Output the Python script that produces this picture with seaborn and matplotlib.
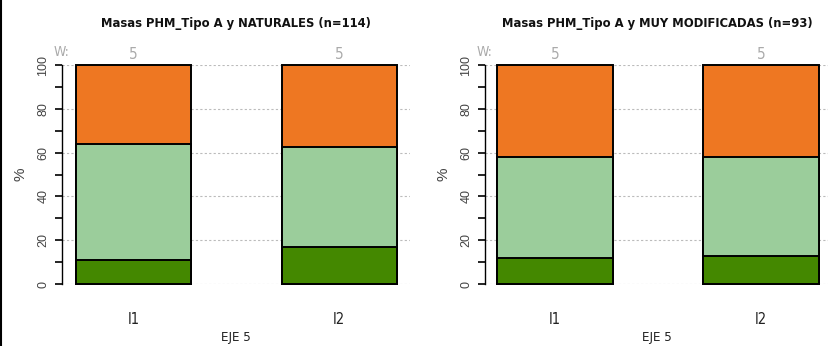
import matplotlib
matplotlib.use("Agg")
import matplotlib.pyplot as plt
from matplotlib import font_manager
from matplotlib.lines import Line2D
import numpy as np
import pandas as pd
import seaborn as sns

# Data: share (%) of water bodies in each state class, by indicator
categories = ["I1", "I2"]
bajo_nat = [11, 17]
medio_nat = [53, 45.5]
alto_nat = [36, 37.5]
bajo_mod = [12, 13]
medio_mod = [46, 45]
alto_mod = [42, 42]
counts_nat = [5, 5]
counts_mod = [5, 5]
titles = ["Masas PHM_Tipo A y NATURALES (n=114)",
          "Masas PHM_Tipo A y MUY MODIFICADAS (n=93)"]

col_alto = "#EE7722"
col_medio = "#9BCD9B"
col_bajo = "#448800"

sns.set_theme(style="white")
plain = "Liberation Sans"
plt.rcParams["font.family"] = [plain, "DejaVu Sans"]

# condensed face for titles and category labels
cond_reg = font_manager.FontProperties(family="DejaVu Sans", stretch="condensed")
cond_bold = font_manager.FontProperties(family="DejaVu Sans", stretch="condensed",
                                        weight="bold")

fig = plt.figure(figsize=(8.29, 3.46), dpi=100)
axes_rect = [[62 / 829, 62 / 346, 348 / 829, 219 / 346],
             [485 / 829, 62 / 346, 344 / 829, 219 / 346]]
panels = [(bajo_nat, medio_nat, alto_nat, counts_nat),
          (bajo_mod, medio_mod, alto_mod, counts_mod)]
xlims = [(-0.348, 1.345), (-0.34, 1.33)]

for rect, (bajo, medio, alto, counts), title, xl in zip(axes_rect, panels, titles, xlims):
    ax = fig.add_axes(rect)
    df = pd.DataFrame({"ind": categories,
                       "bajo": bajo, "medio": medio, "alto": alto})
    df["c1"] = df["bajo"]
    df["c2"] = df["bajo"] + df["medio"]
    df["c3"] = df["c2"] + df["alto"]

    # horizontal dotted reference lines
    for yv in range(0, 101, 20):
        ax.axhline(yv, color="#BBBBBB", lw=0.8, ls=(0, (2, 2)), zorder=0)

    # stacked bars drawn back to front from cumulative totals
    for col, color in [("c3", col_alto), ("c2", col_medio), ("c1", col_bajo)]:
        sns.barplot(data=df, x="ind", y=col, color=color, width=0.56,
                    edgecolor="black", linewidth=1.4, saturation=1,
                    ax=ax, zorder=2, clip_on=False)

    ax.set_xlim(*xl)
    ax.set_ylim(0, 100)
    for s in ["top", "right", "bottom"]:
        ax.spines[s].set_visible(False)
    ax.spines["left"].set_color("black")
    ax.spines["left"].set_linewidth(1.0)

    ax.set_yticks(range(0, 101, 20))
    ax.set_yticks(range(10, 100, 20), minor=True)
    ax.set_yticklabels([str(v) for v in range(0, 101, 20)], rotation=90,
                       va="center", fontsize=9, color="#444444")
    ax.tick_params(axis="y", which="both", direction="out", length=5,
                   width=1.2, color="black", left=True, pad=4)
    ax.tick_params(axis="x", length=0, pad=20)
    for lab in ax.get_xticklabels():
        lab.set_fontproperties(cond_reg)
        lab.set_fontsize(10.5)
        lab.set_color("#222222")
    ax.set_xlabel("EJE 5", fontproperties=cond_reg, fontsize=9.5,
                  color="#222222", labelpad=3)
    ax.set_ylabel("%", fontsize=11, color="#444444", labelpad=7)
    ax.set_title(title, fontproperties=cond_bold, fontsize=9.3, pad=27,
                 color="#111111")

    # group sizes above each bar
    ax.text(0.0, 106, "W:", transform=ax.get_yaxis_transform(), ha="center",
            va="center", fontproperties=cond_reg, fontsize=10,
            color="#AAAAAA", clip_on=False)
    for i, n in enumerate(counts):
        ax.text(i, 105, str(n), ha="center", va="center",
                fontproperties=cond_reg, fontsize=11,
                color="#AAAAAA", clip_on=False)

# thin border on the left side of the figure
fig.add_artist(Line2D([0.0015, 0.0015], [0, 1], transform=fig.transFigure,
                      color="black", lw=1.5))

fig.savefig("out.png", dpi=100)
